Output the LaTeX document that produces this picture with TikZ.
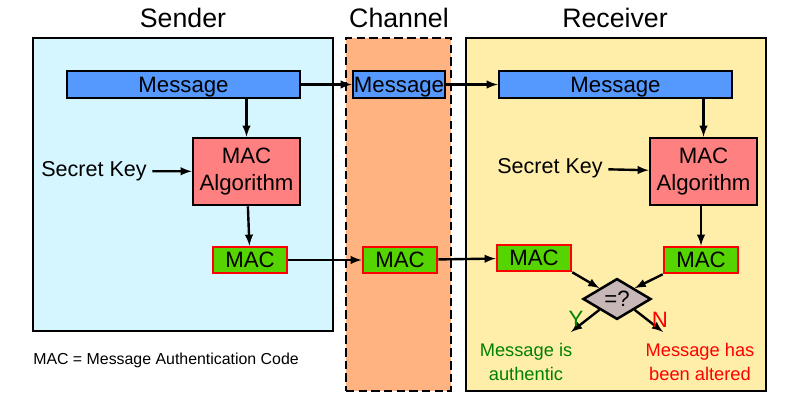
\documentclass[tikz,border=0pt]{standalone}
\usepackage{fontspec}
\setmainfont{Liberation Sans}
\usepackage{tikz}
\usetikzlibrary{shapes.geometric}
\usetikzlibrary{positioning}
\definecolor{senderbg}{HTML}{D5F6FF}
\definecolor{channelbg}{HTML}{FFB380}
\definecolor{receiverbg}{HTML}{FFEEAA}
\definecolor{msgblue}{HTML}{5599FF}
\definecolor{algred}{HTML}{FF8080}
\definecolor{macgreen}{HTML}{55D400}
\definecolor{cmpgray}{HTML}{C8B7B7}
\definecolor{okgreen}{HTML}{008000}
\tikzset{every picture/.style={line width=1.6pt}}
\begin{document}
\begin{tikzpicture}[x=0.025cm,y=-0.025cm,
zone/.style={draw, line width=1.8pt, inner sep=0pt, minimum width=7.5cm},
msg/.style={draw, fill=msgblue, line width=1.8pt, minimum height=0.675cm, inner sep=0pt, text depth=0pt, font=\fontsize{15.8}{18}\selectfont},
alg/.style={draw, fill=algred, line width=1.8pt, minimum width=2.675cm, minimum height=1.675cm, align=center, inner sep=0pt, font=\fontsize{15.8}{19}\selectfont},
mac/.style={draw=red, fill=macgreen, line width=1.8pt, minimum width=1.85cm, minimum height=0.65cm, inner sep=0pt, font=\fontsize{15.8}{18}\selectfont},
title/.style={font=\fontsize{19}{22}\selectfont},
arr/.style={-latex, line width=1.7pt}]
\useasboundingbox (0,0) rectangle (800,400);
% the three zones
\node (sender) at (183,184.5) [zone, fill=senderbg, minimum height=7.325cm] {};
\node (channel) at (398.5,214.5) [zone, fill=channelbg, dash pattern=on 6pt off 3pt, minimum width=2.625cm, minimum height=8.825cm] {};
\node (receiver) at (616,214.5) [zone, fill=receiverbg, minimum height=8.825cm] {};
\node (ts) at (183,18) [title] {Sender};
\node (tc) at (399,18) [title] {Channel};
\node (tr) at (615,18) [title] {Receiver};

% messages
\node (msgS) at (183.5,84.5) [msg, minimum width=5.825cm] {Message};
\node (msgC) at (399,84.5) [msg, minimum width=2.3cm] {Message};
\node (msgR) at (615.5,84.5) [msg, minimum width=5.825cm] {Message};
\draw[arr] (msgS) -- (msgC);
\draw[arr] (msgC) -- (msgR);

% sender side
\node (algS) at (246.5,171.5) [alg] {MAC\\Algorithm};
\node (keyS) at (94,171) [font=\fontsize{15.3}{18}\selectfont] {Secret Key};
\node (macS) at (250,260) [mac] {MAC};
\draw[arr] (msgS.south -| algS) -- (algS);
\draw[arr] (keyS) -- (algS);
\draw[arr] (algS) -- (macS);

% channel
\node (macC) at (400,260) [mac] {MAC};
\draw[arr] (macS) -- (macC);

% receiver side
\node (algR) at (703.5,171.5) [alg] {MAC\\Algorithm};
\node (keyR) at (550,168) [font=\fontsize{15.3}{18}\selectfont] {Secret Key};
\node (macRL) at (534,258) [mac] {MAC};
\node (macRR) at (701,260) [mac] {MAC};
\draw[arr] (macC) -- (macRL);
\draw[arr] (msgR.south -| algR) -- (algR);
\draw[arr] (keyR) -- (algR);
\draw[arr] (algR.south -| macRR) -- (macRR);

% comparison
\node (cmp) at (617,299) [diamond, draw, fill=cmpgray, line width=1.8pt, minimum width=1.7cm, minimum height=1cm, inner sep=0pt, font=\fontsize{15.8}{18}\selectfont] {=?};
\draw[arr] (macRL.south east) -- (cmp.north west);
\draw[arr] (macRR.south west) -- (cmp.north east);
\coordinate (yend) at (571,332);
\coordinate (nend) at (663,332);
\draw[arr] (cmp.south west) -- (yend);
\draw[arr] (cmp.south east) -- (nend);
\node (ylab) at (576,319) [text=okgreen, font=\fontsize{15.8}{18}\selectfont] {Y};
\node (nlab) at (660,320) [text=red, font=\fontsize{15.8}{18}\selectfont] {N};
\node (ok) at (526,362) [text=okgreen, align=center, font=\fontsize{13}{17}\selectfont] {Message is\\authentic};
\node (bad) at (700,362) [text=red, align=center, font=\fontsize{13}{17}\selectfont] {Message has\\been altered};

\node (legend) at (166,360) [font=\fontsize{11.3}{13}\selectfont] {MAC = Message Authentication Code};
\end{tikzpicture}
\end{document}
